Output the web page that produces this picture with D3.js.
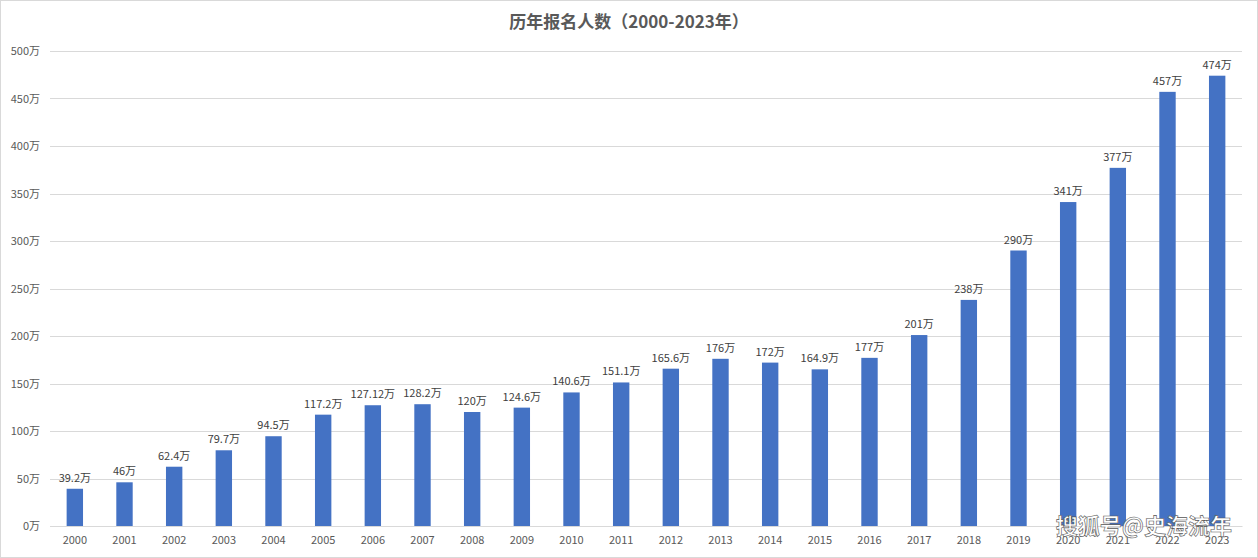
<!DOCTYPE html>
<html><head><meta charset="utf-8">
<script src="https://cdn.jsdelivr.net/npm/d3@7"></script>
<style>body{margin:0;background:#fff}</style></head>
<body><svg id="c" width="1258" height="558"></svg>
<script>
const years = ["2000","2001","2002","2003","2004","2005","2006","2007","2008","2009","2010","2011","2012","2013","2014","2015","2016","2017","2018","2019","2020","2021","2022","2023"];
const values = [39.2,46,62.4,79.7,94.5,117.2,127.12,128.2,120,124.6,140.6,151.1,165.6,176,172,164.9,177,201,238,290,341,377,457,474];
const yTicks = [0,50,100,150,200,250,300,350,400,450,500];
const title = "历年报名人数（2000-2023年）";

const svg = d3.select("#c");
svg.append("rect").attr("x",0.5).attr("y",0.5).attr("width",1257).attr("height",557).attr("fill","#fff").attr("stroke","#d9d9d9");
const x = d3.scaleBand().domain(years).range([50,1242]).paddingInner(0.67).paddingOuter(0.335);
const y = d3.scaleLinear().domain([0,500]).range([526,51]);
const font = "'Microsoft YaHei','Noto Sans CJK SC',sans-serif";

svg.append("g").selectAll("line").data(yTicks).join("line")
  .attr("x1",50).attr("x2",1242).attr("y1",d=>Math.round(y(d))+0.5).attr("y2",d=>Math.round(y(d))+0.5)
  .attr("stroke","#d9d9d9");
const ya = svg.append("g").attr("transform","translate(40,0)")
  .call(d3.axisLeft(y).tickValues(yTicks).tickSize(0).tickPadding(0).tickFormat(d=>d+"万"));
ya.select(".domain").remove();
ya.selectAll("text").attr("font-size",11).attr("fill","#595959").attr("font-family",font);
const xa = svg.append("g").attr("transform","translate(0,526)")
  .call(d3.axisBottom(x).tickSize(0).tickPadding(10));
xa.select(".domain").attr("stroke","#d9d9d9");
xa.selectAll("text").attr("font-size",11).attr("fill","#595959").attr("font-family",font);

svg.append("g").selectAll("rect").data(values).join("rect")
  .attr("x",(d,i)=>x(years[i])).attr("width",x.bandwidth())
  .attr("y",d=>y(d)).attr("height",d=>526-y(d)).attr("fill","#4472C4");
svg.append("g").selectAll("text").data(values).join("text")
  .attr("x",(d,i)=>x(years[i])+x.bandwidth()/2).attr("y",d=>y(d)-7)
  .attr("text-anchor","middle").attr("font-size",11).attr("fill","#404040").attr("font-family",font)
  .text(d=>d+"万");
svg.append("text").attr("x",629).attr("y",28).attr("text-anchor","middle")
  .attr("font-size",17).attr("font-weight","bold").attr("fill","#595959").attr("font-family",font).text(title);
svg.append("text").attr("x",1232).attr("y",534).attr("text-anchor","end")
  .attr("font-size",22).attr("font-weight","bold").attr("fill","#fff").attr("stroke","#555").attr("stroke-width",0.6)
  .attr("font-family",font).text("搜狐号@史海流年");
</script></body></html>
